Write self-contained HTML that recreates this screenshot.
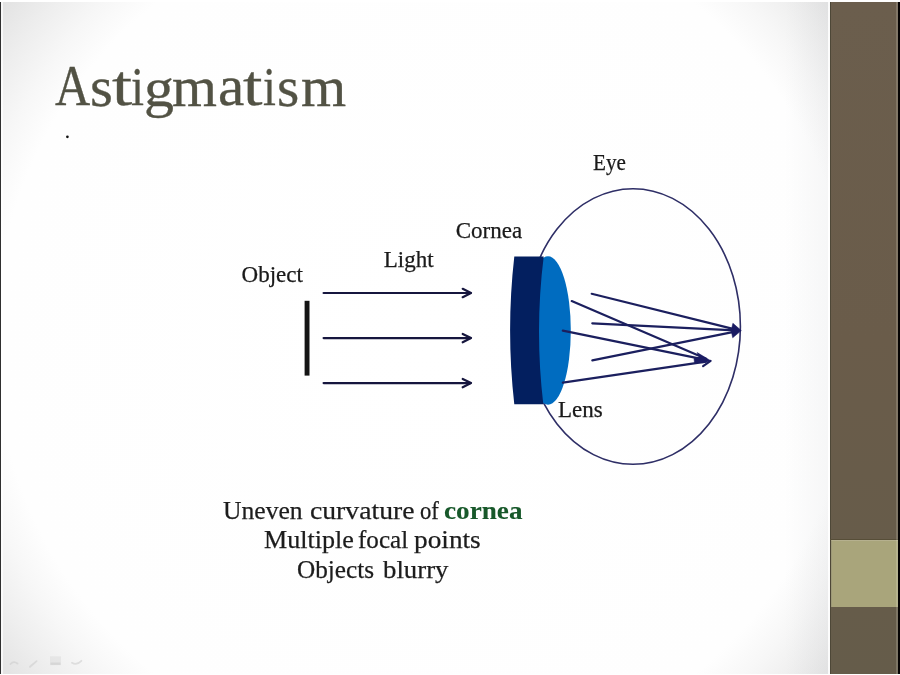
<!DOCTYPE html>
<html>
<head>
<meta charset="utf-8">
<style>
html,body{margin:0;padding:0;width:900px;height:675px;overflow:hidden;background:#fff;}
#txt{position:absolute;left:0;top:0;width:900px;height:675px;will-change:transform;}
#slide{position:absolute;left:0;top:2px;width:900px;height:671.5px;overflow:hidden;
  background:linear-gradient(90deg,rgba(120,125,135,0) 785px,rgba(120,125,135,0.06) 828px,rgba(120,125,135,0) 828.1px),radial-gradient(circle at 425px 337px,#ffffff 0px,#fefefe 430px,#f7f7f7 465px,#eeeeee 500px,#e1e1e1 545px);}
#lb{position:absolute;left:0;top:0;width:1.1px;height:100%;background:#303030;}
#lb2{position:absolute;left:1.2px;top:0;width:2.2px;height:100%;background:rgba(255,255,255,0.7);}
#bar{position:absolute;left:830px;top:0;width:68px;height:100%;background:linear-gradient(#6b5e4d,#6a5c4a 50%,#655c4a);border-left:1.5px solid #4d4737;box-sizing:border-box;}
#hl{position:absolute;left:828px;top:0;width:2px;height:100%;background:rgba(255,255,255,0.8);}
#rl{position:absolute;left:895.8px;top:0;width:1.9px;height:100%;background:rgba(255,255,240,0.16);}
#bl{position:absolute;left:830px;top:536.5px;width:68px;height:1.4px;background:#574e38;}
#band{position:absolute;left:830.6px;top:537.8px;width:67px;height:66.9px;background:#a9a57b;border-top:1.2px solid #b5b08e;border-left:0.8px solid #9d9977;box-sizing:border-box;}
#rb{position:absolute;left:897.5px;top:0;width:3px;height:100%;background:#050303;}
.t{position:absolute;white-space:pre;font-family:"Liberation Serif",serif;line-height:1;}
#title span{position:absolute;font-family:"Liberation Serif",serif;font-size:59px;line-height:1;color:#525244;-webkit-text-stroke:0.35px #525244;transform-origin:0 0;white-space:pre;}
.lbl{font-size:23px;color:#1a1a1a;-webkit-text-stroke:0.25px #1a1a1a;}
.w{position:absolute;white-space:pre;font-family:"Liberation Serif",serif;line-height:1;font-size:25.5px;color:#1c1c1c;transform-origin:0 0;-webkit-text-stroke:0.25px #1c1c1c;}
.w.b{font-weight:bold;color:#17582a;-webkit-text-stroke:0.1px #17582a;}
svg{position:absolute;left:0;top:0;}
</style>
</head>
<body>
<div id="slide">
  <div id="lb"></div><div id="lb2"></div>
  <div id="hl"></div><div id="bar"></div><div id="bl"></div><div id="band"></div><div id="rl"></div><div id="rb"></div>
</div>
<div id="txt">
<div id="title"><span style="left:54.60px;top:58.11px;transform:scale(0.8262,0.9692)">A</span><span style="left:89.71px;top:57.58px;transform:scale(0.9947,0.9724)">s</span><span style="left:111.57px;top:58.43px;transform:scale(1.2267,0.9514)">t</span><span style="left:131.21px;top:59.26px;transform:scale(0.7929,0.9436)">i</span><span style="left:143.55px;top:60.96px;transform:scale(1.0160,0.9233)">g</span><span style="left:171.72px;top:57.65px;transform:scale(0.9795,0.9786)">m</span><span style="left:217.79px;top:57.92px;transform:scale(1.0043,0.9655)">a</span><span style="left:243.41px;top:58.43px;transform:scale(1.1867,0.9514)">t</span><span style="left:263.41px;top:59.26px;transform:scale(0.7857,0.9436)">i</span><span style="left:277.46px;top:57.58px;transform:scale(0.9684,0.9724)">s</span><span style="left:300.72px;top:57.65px;transform:scale(0.9841,0.9786)">m</span></div>
<div class="t lbl" style="left:241.6px;top:262.8px">Object</div>
<div class="t lbl" style="left:383.7px;top:248px">Light</div>
<div class="t lbl" style="left:455.7px;top:218.5px">Cornea</div>
<div class="t lbl" style="left:593.4px;top:151px;transform:scaleX(0.92);transform-origin:0 0">Eye</div>
<div class="t lbl" style="left:558px;top:398px">Lens</div>
<span class="w" style="left:223.40px;top:497.50px;transform:scaleX(1.0038)">Uneven</span>
<span class="w" style="left:309.61px;top:497.50px;transform:scaleX(1.0853)">curvature</span>
<span class="w" style="left:420.01px;top:497.50px;transform:scaleX(0.8900)">of</span>
<span class="w b" style="left:443.83px;top:497.50px;transform:scaleX(1.0667)">cornea</span>
<span class="w" style="left:264.38px;top:526.90px;transform:scaleX(1.0221)">Multiple</span>
<span class="w" style="left:358.32px;top:526.90px;transform:scaleX(0.9837)">focal</span>
<span class="w" style="left:414.23px;top:526.90px;transform:scaleX(1.0705)">points</span>
<span class="w" style="left:296.91px;top:556.70px;transform:scaleX(0.9895)">Objects</span>
<span class="w" style="left:382.60px;top:556.70px;transform:scaleX(1.0500)">blurry</span>
</div>
<svg width="900" height="675" viewBox="0 0 900 675">
  <defs><filter id="fb" x="-20%" y="-50%" width="140%" height="200%"><feGaussianBlur stdDeviation="0.7"/></filter></defs><g filter="url(#fb)"><g opacity="0.5" fill="none" stroke="#c8c8c8" stroke-width="1.8" stroke-linecap="round">
    <path d="M10.5,664 Q13.5,660.5 17.5,663.5"/>
    <path d="M30,666.8 L36.6,661.1"/>
    <path d="M72,662.8 Q76.5,665.8 81.4,660.8"/>
  </g>
  <rect x="50" y="656.3" width="11" height="8.8" fill="#d2d2d2" opacity="0.35"/>
  <rect x="50.5" y="662.5" width="10" height="2.4" fill="#c8c8c8" opacity="0.5"/></g>
  <circle cx="67.4" cy="136.8" r="1.35" fill="#111"/>
  <rect x="304.6" y="300.8" width="4.9" height="74.8" fill="#141414"/>
  <g stroke="#16163e" stroke-width="2.2" fill="none" stroke-linecap="round" stroke-linejoin="round">
    <line x1="323.6" y1="293" x2="470.5" y2="293"/>
    <line x1="323.6" y1="338.1" x2="470.5" y2="338.1"/>
    <line x1="323.6" y1="383.1" x2="470.5" y2="383.1"/>
    <polyline points="462.7,288.8 471,293 462.7,297.2"/>
    <polyline points="462.7,333.9 471,338.1 462.7,342.3"/>
    <polyline points="462.7,378.9 471,383.1 462.7,387.3"/>
  </g>
  <ellipse cx="633" cy="326.5" rx="107.4" ry="137.8" fill="none" stroke="#2e2e66" stroke-width="1.6"/>
  <ellipse cx="548" cy="330.5" rx="22.8" ry="74.2" fill="#006cc0"/>
  <path d="M514.3,256.5 L543.7,256.5 Q534.5,330 543.3,404.2 L514.3,404.2 Q505.9,330 514.3,256.5 Z" fill="#031f5f"/>
  <g stroke="#1b1f5e" stroke-width="2.2" fill="none" stroke-linecap="round">
    <line x1="591.7" y1="293.8" x2="735" y2="329.4"/>
    <line x1="592.3" y1="323.3" x2="735" y2="330.4"/>
    <line x1="592.3" y1="360.4" x2="735" y2="331.6"/>
    <line x1="571.7" y1="301.1" x2="706" y2="358.8"/>
    <line x1="562.8" y1="330.7" x2="706" y2="359.9"/>
    <line x1="562.8" y1="382.7" x2="706" y2="361.6"/>
    <line x1="710.6" y1="360.9" x2="703.1" y2="366.2"/>
  </g>
  <path d="M741.3,330.6 L732.9,323.3 L731.2,330.6 L732.7,337.7 Z" fill="#1a1b63" stroke="#1a1b63" stroke-width="0.6" stroke-linejoin="round"/>
  <path d="M711,360.9 L697.2,352.6 L699.5,357 L694,358.5 L694.5,362.5 L703,362.8 Z" fill="#1a1b63" stroke="#1a1b63" stroke-width="0.6" stroke-linejoin="round"/>
</svg>
</body>
</html>
